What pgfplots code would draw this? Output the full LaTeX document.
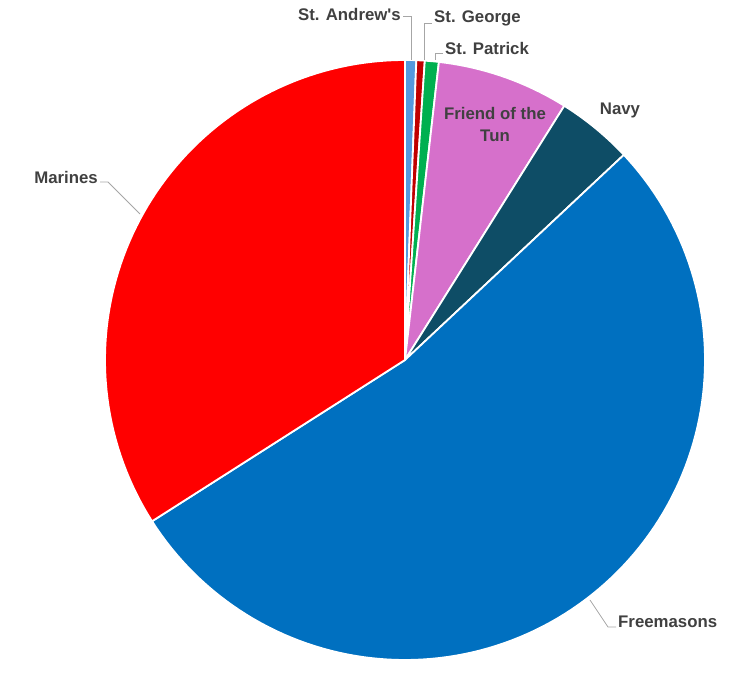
\documentclass[border=0pt]{standalone}
\usepackage{pgfplots}
\pgfplotsset{compat=1.18}
\usepackage{pgfplotstable}
\usepackage{fontspec}
\setmainfont{Liberation Sans}[Ligatures=TeXOff]

\definecolor{cAndrew}{HTML}{5599DD}
\definecolor{cGeorge}{HTML}{C00000}
\definecolor{cPatrick}{HTML}{00B050}
\definecolor{cTun}{HTML}{D670CB}
\definecolor{cNavy}{HTML}{0E4D66}
\definecolor{cMason}{HTML}{0070C0}
\definecolor{cMarine}{HTML}{FF0000}
\definecolor{labtxt}{HTML}{404040}
\definecolor{leader}{HTML}{A6A6A6}

\tikzset{
  lbl/.style={font=\bfseries\fontsize{16.8}{19}\selectfont, text=labtxt, inner sep=0pt},
  ldr/.style={draw=leader, line width=0.8pt},
}

% slice values (percent), clockwise from 12 o'clock
\pgfplotstableread[col sep=comma]{
label,value
St. Andrew's,0.6
St. George,0.45
St. Patrick,0.75
Friend of the Tun,7.1
Navy,4.1
Freemasons,52.9
Marines,34.0
}\piedata

\pgfplotstablegetelem{0}{value}\of\piedata \let\vA\pgfplotsretval
\pgfplotstablegetelem{1}{value}\of\piedata \let\vB\pgfplotsretval
\pgfplotstablegetelem{2}{value}\of\piedata \let\vC\pgfplotsretval
\pgfplotstablegetelem{3}{value}\of\piedata \let\vD\pgfplotsretval
\pgfplotstablegetelem{4}{value}\of\piedata \let\vE\pgfplotsretval
\pgfplotstablegetelem{5}{value}\of\piedata \let\vF\pgfplotsretval
\pgfplotstablegetelem{6}{value}\of\piedata \let\vG\pgfplotsretval
\pgfmathsetmacro\tot{\vA+\vB+\vC+\vD+\vE+\vF+\vG}
\pgfmathsetmacro\aA{0}
\pgfmathsetmacro\aB{\aA+\vA/\tot*360}
\pgfmathsetmacro\aC{\aB+\vB/\tot*360}
\pgfmathsetmacro\aD{\aC+\vC/\tot*360}
\pgfmathsetmacro\aE{\aD+\vD/\tot*360}
\pgfmathsetmacro\aF{\aE+\vE/\tot*360}
\pgfmathsetmacro\aG{\aF+\vF/\tot*360}
\pgfmathsetmacro\aH{360}

\begin{document}
\begin{tikzpicture}
\begin{axis}[
  scale only axis, width=753pt, height=682pt,
  xmin=0, xmax=753, ymin=0, ymax=682,
  hide axis, clip=false,
  every axis plot/.append style={draw=white, line width=1.8pt, line join=round},
]
\addplot[draw=none, fill=none] coordinates {(0,0) (753,682)};
\addplot[fill=cAndrew, domain=\aA:\aB, samples=4, variable=\t] ({405+300*sin(\t)},{322+300*cos(\t)}) -- (405,322) -- cycle;
\addplot[fill=cGeorge, domain=\aB:\aC, samples=4, variable=\t] ({405+300*sin(\t)},{322+300*cos(\t)}) -- (405,322) -- cycle;
\addplot[fill=cPatrick, domain=\aC:\aD, samples=4, variable=\t] ({405+300*sin(\t)},{322+300*cos(\t)}) -- (405,322) -- cycle;
\addplot[fill=cTun, domain=\aD:\aE, samples=20, variable=\t] ({405+300*sin(\t)},{322+300*cos(\t)}) -- (405,322) -- cycle;
\addplot[fill=cNavy, domain=\aE:\aF, samples=12, variable=\t] ({405+300*sin(\t)},{322+300*cos(\t)}) -- (405,322) -- cycle;
\addplot[fill=cMason, domain=\aF:\aG, samples=120, variable=\t] ({405+300*sin(\t)},{322+300*cos(\t)}) -- (405,322) -- cycle;
\addplot[fill=cMarine, domain=\aG:\aH, samples=80, variable=\t] ({405+300*sin(\t)},{322+300*cos(\t)}) -- (405,322) -- cycle;

% leader lines
\draw[ldr] (403,666) -- (411,666) -- (411,622);
\draw[ldr] (432,659) -- (424,659) -- (424,622);
\draw[ldr] (443,629) -- (435,629) -- (435,622);
\draw[ldr] (100,500) -- (108,500) -- (140,468);
\draw[ldr] (590,82) -- (608,55) -- (616,55);

% labels
\node[lbl, anchor=east] at (401,667) {St. Andrew's};
\node[lbl, anchor=west] at (434,664) {St. George};
\node[lbl, anchor=west] at (445,633) {St. Patrick};
\node[lbl, align=center, font=\bfseries\fontsize{16.8}{22}\selectfont] at (495,557) {Friend of the\\Tun};
\node[lbl] at (620,572) {Navy};
\node[lbl, anchor=east] at (98,504) {Marines};
\node[lbl, anchor=west] at (618,60) {Freemasons};
\end{axis}
\end{tikzpicture}
\end{document}
